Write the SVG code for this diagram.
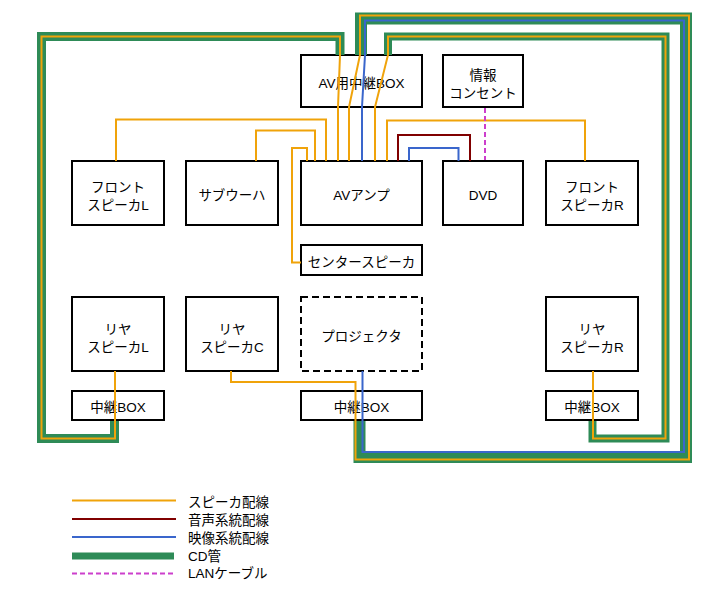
<svg xmlns="http://www.w3.org/2000/svg" width="712" height="601" viewBox="0 0 712 601">
<style>
  .box { fill: #ffffff; stroke: #000000; stroke-width: 2; }
  .dash { stroke-dasharray: 7,4; }
  text { font-family: "Liberation Sans", "Noto Sans CJK JP", sans-serif; font-size: 13.5px; fill: #000000; text-anchor: middle; }
  .lg { text-anchor: start; }
  .pipe { fill: none; stroke: #2E8B57; stroke-linejoin: miter; }
  .sp { fill: none; stroke: #F0A30A; stroke-width: 2; }
  .au { fill: none; stroke: #800000; stroke-width: 2; }
  .vi { fill: none; stroke: #3A66CC; stroke-width: 2; }
  .lan { fill: none; stroke: #CC3FCC; stroke-width: 2; stroke-dasharray: 5,3; }
</style>
<rect width="712" height="601" fill="#ffffff"/>

<g id="nodes">
  <g id="av-relay"><rect class="box" x="301" y="55" width="121" height="52"/><text x="361.5" y="87.5">AV用中継BOX</text></g>
  <g id="info-outlet"><rect class="box" x="443" y="55" width="80" height="52"/><text x="483" y="79.5">情報</text><text x="483" y="97.5">コンセント</text></g>
  <g id="front-l"><rect class="box" x="72" y="161" width="92" height="64"/><text x="118" y="192">フロント</text><text x="118" y="210">スピーカL</text></g>
  <g id="subwoofer"><rect class="box" x="186" y="161" width="92" height="64"/><text x="232" y="200">サブウーハ</text></g>
  <g id="av-amp"><rect class="box" x="301" y="161" width="121" height="64"/><text x="361.5" y="200">AVアンプ</text></g>
  <g id="dvd"><rect class="box" x="443" y="161" width="80" height="64"/><text x="483" y="200">DVD</text></g>
  <g id="front-r"><rect class="box" x="546" y="161" width="92" height="64"/><text x="592" y="192">フロント</text><text x="592" y="210">スピーカR</text></g>
  <g id="center"><rect class="box" x="301" y="245" width="121" height="30"/><text x="361.5" y="267">センタースピーカ</text></g>
  <g id="rear-l"><rect class="box" x="72" y="297" width="92" height="74"/><text x="118" y="334">リヤ</text><text x="118" y="352">スピーカL</text></g>
  <g id="rear-c"><rect class="box" x="186" y="297" width="92" height="74"/><text x="232" y="334">リヤ</text><text x="232" y="352">スピーカC</text></g>
  <g id="projector"><rect class="box dash" x="301" y="297" width="121" height="74"/><text x="361.5" y="341">プロジェクタ</text></g>
  <g id="rear-r"><rect class="box" x="546" y="297" width="92" height="74"/><text x="592" y="334">リヤ</text><text x="592" y="352">スピーカR</text></g>
  <g id="relay-l"><rect class="box" x="72" y="391" width="92" height="29"/><text x="118" y="412">中継BOX</text></g>
  <g id="relay-c"><rect class="box" x="301" y="391" width="121" height="29"/><text x="361.5" y="412">中継BOX</text></g>
  <g id="relay-r"><rect class="box" x="546" y="391" width="92" height="29"/><text x="592" y="412">中継BOX</text></g>
</g>

<g id="connectors">
  <!-- CD pipes -->
  <path class="pipe" stroke-width="9" d="M 340,55 V 36.5 H 41.5 V 438.5 H 114.5 V 421"/>
  <path class="pipe" stroke-width="8" d="M 388,55 V 36.5 H 665.5 V 438.5 H 592.5 V 421"/>
  <path class="pipe" stroke-width="12" d="M 361,55 V 18.5 H 686 V 457 H 359.5 V 421"/>
  <!-- speaker wires -->
  <path class="sp" d="M 338,161 V 107 L 340,55 V 36.5 H 41.5 V 438.5 H 115 V 371"/>
  <path class="sp" d="M 349,161 V 107 L 360,55 V 15.5 H 689 V 459.5 H 355.5 V 382 H 231 V 371"/>
  <path class="sp" d="M 375,161 V 107 L 388,55 V 36.5 H 665.5 V 438.5 H 593 V 371"/>
  <path class="sp" d="M 116,161 V 119.5 H 326 V 161"/>
  <path class="sp" d="M 256,161 V 130.5 H 315 V 161"/>
  <path class="sp" d="M 301,262.5 H 292 V 148 H 307 V 161"/>
  <path class="sp" d="M 387,161 V 120.5 H 585 V 161"/>
  <!-- video wires -->
  <path class="vi" d="M 362,161 V 107 L 365,55 V 20.5 H 684 V 452 H 362.5 V 371"/>
  <path class="vi" d="M 409,161 V 148 H 458.5 V 161"/>
  <!-- audio wire -->
  <path class="au" d="M 398,161 V 135 H 470 V 161"/>
  <!-- LAN -->
  <path class="lan" d="M 485,108 V 160"/>
</g>

<g id="legend">
  <line class="sp" x1="72" y1="500.5" x2="176" y2="500.5"/>
  <line class="au" x1="72" y1="519" x2="176" y2="519"/>
  <line class="vi" x1="72" y1="537" x2="176" y2="537"/>
  <line x1="72" y1="556" x2="174" y2="556" stroke="#2E8B57" stroke-width="7"/>
  <line class="lan" x1="72" y1="573.5" x2="176" y2="573.5" stroke-dasharray="7,5.5"/>
  <text class="lg" x="188" y="507">スピーカ配線</text>
  <text class="lg" x="188" y="525">音声系統配線</text>
  <text class="lg" x="188" y="543">映像系統配線</text>
  <text class="lg" x="188" y="561">CD管</text>
  <text class="lg" x="188" y="578">LANケーブル</text>
</g>
</svg>
